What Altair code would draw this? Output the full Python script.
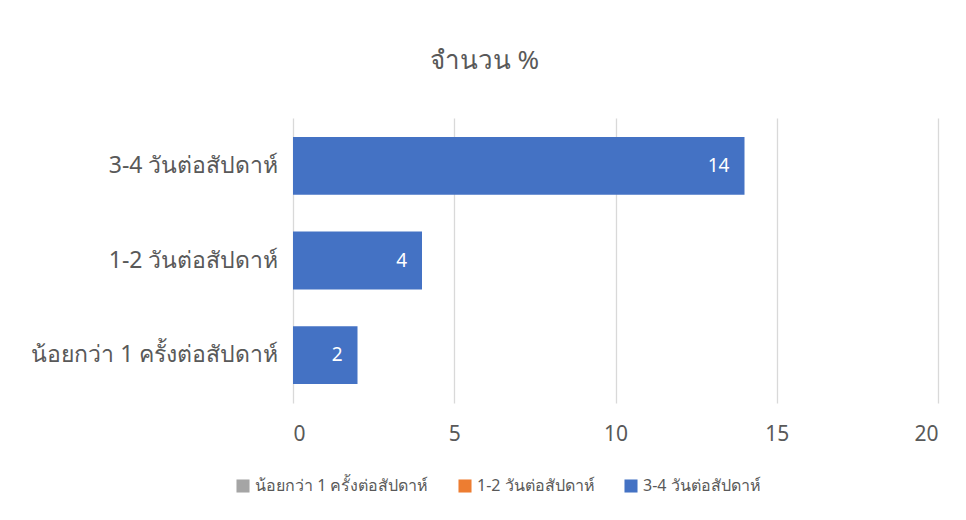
import altair as alt
import pandas as pd

categories = ["3-4 วันต่อสัปดาห์", "1-2 วันต่อสัปดาห์", "น้อยกว่า 1 ครั้งต่อสัปดาห์"]
values = [14, 4, 2]
legend_series = ["น้อยกว่า 1 ครั้งต่อสัปดาห์", "1-2 วันต่อสัปดาห์", "3-4 วันต่อสัปดาห์"]
legend_colors = ["#A5A5A5", "#ED7D31", "#4472C4"]
title_text = "จำนวน %"

df = pd.DataFrame({"cat": categories, "val": values})
leg = pd.DataFrame({"series": legend_series, "val": [0, 0, 0], "cat": categories[::-1]})

FONT = "Noto Sans"
GREY = "#595959"

y_enc = alt.Y("cat:N", sort=categories, title=None,
              scale=alt.Scale(paddingInner=0.39, paddingOuter=0.2),
              axis=alt.Axis(labelFontSize=23, labelColor=GREY, labelFont=FONT,
                            labelPadding=15, domain=False, ticks=False, grid=False,
                            labelLimit=400))
x_enc = alt.X("val:Q", title=None,
              scale=alt.Scale(domain=[0, 20], nice=False),
              axis=alt.Axis(values=[0, 5, 10, 15, 20], labelFontSize=21, labelColor=GREY,
                            labelFont=FONT, labelPadding=20, domain=False, ticks=False,
                            grid=True, gridColor="#D9D9D9", gridWidth=1.3))

bars = alt.Chart(df).mark_bar(color="#4472C4").encode(y=y_enc, x=x_enc)

labels = alt.Chart(df).mark_text(align="right", baseline="middle", dx=-15, color="white",
                                 fontSize=19, font=FONT).encode(
    y=alt.Y("cat:N", sort=categories), x="val:Q", text="val:Q")

legend_layer = alt.Chart(leg).mark_square(opacity=0, size=1).encode(
    y=alt.Y("cat:N", sort=categories), x="val:Q",
    color=alt.Color("series:N", sort=legend_series,
                    scale=alt.Scale(domain=legend_series, range=legend_colors),
                    legend=alt.Legend(title=None, orient="none", direction="horizontal",
                                      legendX=-58, legendY=360,
                                      symbolType="square", symbolSize=170, symbolOpacity=1,
                                      symbolStrokeWidth=0,
                                      labelFontSize=16, labelColor=GREY, labelFont=FONT,
                                      columnPadding=28, labelLimit=300)))

chart = alt.layer(bars, labels, legend_layer).properties(
    width=645, height=285,
    background="white",
    title=alt.TitleParams(title_text, fontSize=26, font=FONT, color=GREY, fontWeight=400,
                          anchor="middle", frame="bounds", offset=44),
    padding={"left": 22, "top": 40, "right": 20, "bottom": 10},
).configure_view(strokeWidth=0, stroke=None)

chart.save("out.html", embed_options={"renderer": "svg", "actions": False})
